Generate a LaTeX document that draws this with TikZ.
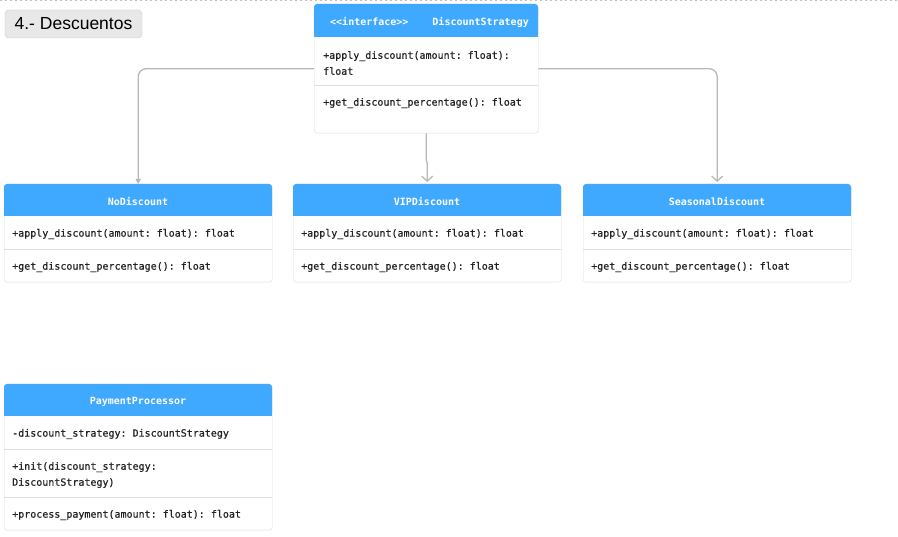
\documentclass[tikz,border=0pt]{standalone}
\usepackage{fontspec}
\setmainfont{Liberation Sans}
\setmonofont{DejaVu Sans Mono}
\newfontfamily\umlmono[FakeBold=0.6,WordSpace={1,0,0},PunctuationSpace=WordSpace]{DejaVu Sans Mono}
\usetikzlibrary{arrows.meta,positioning}
\definecolor{hdrblue}{HTML}{3FA9FF}
\definecolor{boxline}{HTML}{DEDEDE}
\definecolor{wire}{HTML}{B8B8B8}
\definecolor{txt}{HTML}{222222}
\tikzset{
  classbox/.style={draw=boxline,fill=white,rounded corners=3pt,anchor=north west,inner sep=0pt},
  hdrtxt/.style={text=white,inner sep=0pt,font=\ttfamily\bfseries\fontsize{10}{11}\selectfont},
  row/.style={anchor=west,inner sep=0pt,text=txt,align=left,font=\umlmono\fontsize{10}{16}\selectfont},
  wirearrow/.style={draw=wire,line width=1.3pt,rounded corners=8pt},
  titlebox/.style={draw=black!22,fill=black!9,rounded corners=4pt,minimum width=137,minimum height=28,font=\fontsize{17.5}{18}\selectfont},
}
\begin{document}
\begin{tikzpicture}[x=1pt,y=-1pt]
\pgfmathsetmacro{\cw}{268}
\pgfmathsetmacro{\hh}{32}
\useasboundingbox (0,0) rectangle (898,537);
% page edge
\draw[black!25,line width=1.5pt,dash pattern=on 2pt off 3pt] (0,0.75) -- (898,0.75);
\node[titlebox] (title) at (73.5,24) {4.- Descuentos};
% interface
\node[classbox,minimum width=224,minimum height=129] (strat) at (314,4) {};
\fill[hdrblue,rounded corners=3pt] (strat.north west) rectangle ++(224,\hh+1);
\fill[hdrblue] (strat.north west) ++(0,10) rectangle ++(224,\hh-9);
\node[hdrtxt,anchor=west] (strat-st) at (330,22) {<<interface>>};
\node[hdrtxt,anchor=east] (strat-title) at (529,22) {DiscountStrategy};
\node[row] (strat-r1) at (323,63) {+apply\_discount(amount: float):\\float};
\draw[boxline] (314,85) -- ++(224,0);
\node[row] (strat-r2) at (323,103) {+get\_discount\_percentage(): float};
% subclasses
\foreach \n/\x/\t in {nodisc/4/NoDiscount,vipdisc/293/VIPDiscount,seasdisc/583/SeasonalDiscount}{
  \node[classbox,minimum width=\cw,minimum height=98] (\n) at (\x,184) {};
  \fill[hdrblue,rounded corners=3pt] (\n.north west) rectangle ++(\cw,\hh);
  \fill[hdrblue] (\n.north west) ++(0,10) rectangle ++(\cw,\hh-10);
  \node[hdrtxt] (\n-title) at (\x+134,202) {\t};
  \node[row] (\n-r1) at (\x+8,234) {+apply\_discount(amount: float): float};
  \draw[boxline] (\x,249) -- ++(\cw,0);
  \node[row] (\n-r2) at (\x+8,267) {+get\_discount\_percentage(): float};
}
% payment processor
\node[classbox,minimum width=\cw,minimum height=146] (payproc) at (4,384) {};
\fill[hdrblue,rounded corners=3pt] (payproc.north west) rectangle ++(\cw,\hh);
\fill[hdrblue] (payproc.north west) ++(0,10) rectangle ++(\cw,\hh-10);
\node[hdrtxt] (payproc-title) at (138,402) {PaymentProcessor};
\node[row] (payproc-r1) at (12,434) {-discount\_strategy: DiscountStrategy};
\draw[boxline] (4,449) -- ++(\cw,0);
\node[row] (payproc-r2) at (12,475) {+init(discount\_strategy:\\DiscountStrategy)};
\draw[boxline] (4,497) -- ++(\cw,0);
\node[row] (payproc-r3) at (12,515) {+process\_payment(amount: float): float};
% realizations
\draw[wirearrow,-{Triangle[length=5pt,width=5pt]}] (strat.west) -| (nodisc.north);
\draw[wirearrow,rounded corners=0pt,-{Straight Barb[length=5pt,width=11pt]}] (strat.south) -- ++(0,26) -- ++(1,4) -- ([yshift=2pt]vipdisc.north);
\draw[wirearrow,-{Straight Barb[length=5pt,width=11pt]}] (strat.east) -| ([yshift=2pt]seasdisc.north);
\end{tikzpicture}
\end{document}
